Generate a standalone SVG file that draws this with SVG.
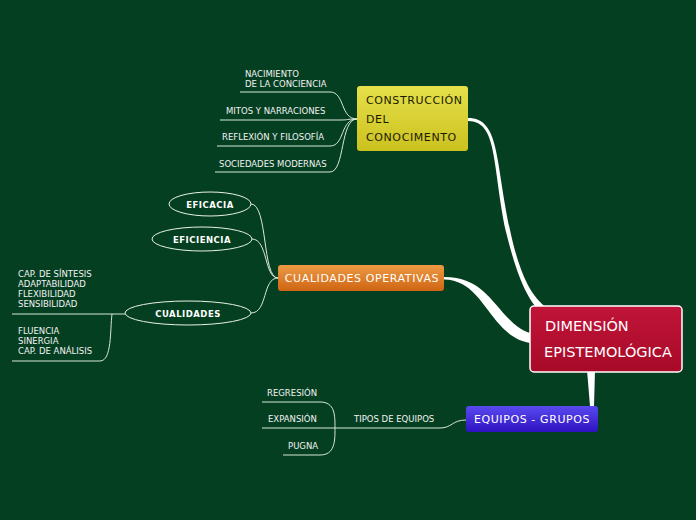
<svg xmlns="http://www.w3.org/2000/svg" width="696" height="520" viewBox="0 0 696 520">
<defs>
<linearGradient id="gy" x1="0" y1="0" x2="0" y2="1"><stop offset="0" stop-color="#e6e04a"/><stop offset="1" stop-color="#cbc21f"/></linearGradient>
<linearGradient id="go" x1="0" y1="0" x2="0" y2="1"><stop offset="0" stop-color="#ee9a45"/><stop offset="1" stop-color="#cf6512"/></linearGradient>
<linearGradient id="gp" x1="0" y1="0" x2="0" y2="1"><stop offset="0" stop-color="#5a4af0"/><stop offset="1" stop-color="#2e12c0"/></linearGradient>
<linearGradient id="gr" x1="0" y1="0" x2="0" y2="1"><stop offset="0" stop-color="#c01438"/><stop offset="1" stop-color="#a80a28"/></linearGradient>
</defs>
<style>
.t{font-family:"DejaVu Sans","Liberation Sans",sans-serif;font-size:8.5px;fill:#f2f2f2}
.e{font-family:"DejaVu Sans","Liberation Sans",sans-serif;font-size:8.5px;font-weight:bold;fill:#ffffff;letter-spacing:0.5px}
.n{font-family:"DejaVu Sans","Liberation Sans",sans-serif;font-size:11px;letter-spacing:0.6px}
.m{font-family:"DejaVu Sans","Liberation Sans",sans-serif;font-size:14.5px;fill:#ffffff}
.l{fill:none;stroke:#d8e8d8;stroke-width:1}
.thick{fill:#ffffff;stroke:none}
.ell{fill:none;stroke:#e8f0e8;stroke-width:1}
</style>
<rect width="696" height="520" fill="#053f21"/>
<g id="connectors">
<path class="thick" d="M468,118 C500,118 495,160 510,230 C522,285 535,300 552,312 L542,314 C528,300 518,280 506,232 C492,165 498,121 468,121 Z"/>
<path class="thick" d="M444,277 C480,277 490,300 510,320 C520,330 528,333 532,333 L532,343 C520,342 510,336 500,325 C482,305 472,280 444,279.5 Z"/>
<path class="thick" d="M587,370 L595,370 L594,406 L590,406 Z"/>
<path class="l" d="M357,119 C340,119 345,92 330,92 L240,92"/>
<path class="l" d="M357,119 C345,119 350,120 340,120 L220,120"/>
<path class="l" d="M357,119 C340,119 345,146 330,146 L217,146"/>
<path class="l" d="M357,119 C340,119 345,172 330,172 L215,172"/>
<path class="l" d="M278,278 C262,278 268,204 251,204"/>
<path class="l" d="M278,278 C264,278 268,239 252,239"/>
<path class="l" d="M278,278 C262,278 268,313 251,313"/>
<path class="l" d="M125,314 L12,314"/>
<path class="l" d="M112,314 C110,330 112,361 100,361 L12,361"/>
<path class="l" d="M466,420 C452,420 452,428 440,428 L262,428"/>
<path class="l" d="M335,428 C335,415 335,402 320,402 L262,402"/>
<path class="l" d="M335,428 C335,441 335,455 320,455 L283,455"/>
</g>
<g id="main">
<rect x="530" y="306" width="152" height="66" rx="4" fill="url(#gr)" stroke="#ffffff" stroke-width="1.5"/>
<text class="m" x="545" y="331">DIMENSIÓN</text>
<text class="m" x="544" y="357">EPISTEMOLÓGICA</text>
</g>
<g id="construccion">
<rect x="357" y="86" width="111" height="65" rx="3" fill="url(#gy)"/>
<text class="n" x="366" y="104" fill="#1a1a00">CONSTRUCCIÓN</text>
<text class="n" x="366" y="123" fill="#1a1a00">DEL</text>
<text class="n" x="366" y="141" fill="#1a1a00">CONOCIMENTO</text>
</g>
<g id="cualidades-operativas">
<rect x="278" y="265" width="166" height="26" rx="3" fill="url(#go)"/>
<text class="n" x="362" y="282" text-anchor="middle" fill="#ffffff">CUALIDADES OPERATIVAS</text>
</g>
<g id="equipos">
<rect x="466" y="406" width="132" height="26" rx="3" fill="url(#gp)"/>
<text class="n" x="532" y="423" text-anchor="middle" fill="#ffffff">EQUIPOS - GRUPOS</text>
</g>
<g id="nacimiento"><text class="t" x="245" y="77">NACIMIENTO</text><text class="t" x="245" y="87">DE LA CONCIENCIA</text></g>
<g id="mitos"><text class="t" x="226" y="114">MITOS Y NARRACIONES</text></g>
<g id="reflexion"><text class="t" x="222" y="140">REFLEXIÓN Y FILOSOFÍA</text></g>
<g id="sociedades"><text class="t" x="219" y="167">SOCIEDADES MODERNAS</text></g>
<g id="eficacia"><ellipse class="ell" cx="210" cy="204" rx="41" ry="12"/><text class="e" x="210" y="207.5" text-anchor="middle">EFICACIA</text></g>
<g id="eficiencia"><ellipse class="ell" cx="202" cy="239" rx="50" ry="12"/><text class="e" x="202" y="242.5" text-anchor="middle">EFICIENCIA</text></g>
<g id="cualidades"><ellipse class="ell" cx="188" cy="313" rx="63" ry="12"/><text class="e" x="188" y="316.5" text-anchor="middle">CUALIDADES</text></g>
<g id="grupo1"><text class="t" x="18" y="277">CAP. DE SÍNTESIS</text><text class="t" x="18" y="287">ADAPTABILIDAD</text><text class="t" x="18" y="297">FLEXIBILIDAD</text><text class="t" x="18" y="307">SENSIBILIDAD</text></g>
<g id="grupo2"><text class="t" x="18" y="334">FLUENCIA</text><text class="t" x="18" y="344">SINERGIA</text><text class="t" x="18" y="354">CAP. DE ANÁLISIS</text></g>
<g id="tipos"><text class="t" x="354" y="422">TIPOS DE EQUIPOS</text></g>
<g id="regresion"><text class="t" x="267" y="396">REGRESIÓN</text></g>
<g id="expansion"><text class="t" x="268" y="422">EXPANSIÓN</text></g>
<g id="pugna"><text class="t" x="288" y="449">PUGNA</text></g>
</svg>
